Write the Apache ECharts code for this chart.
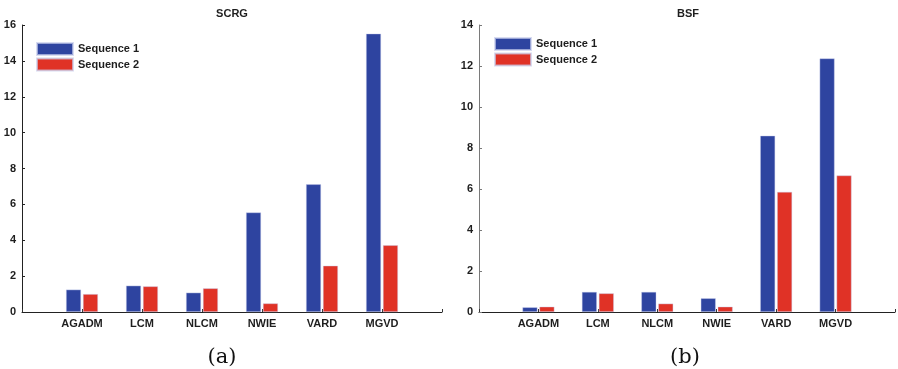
<!DOCTYPE html>
<html>
<head>
<meta charset="utf-8">
<script src="https://cdn.jsdelivr.net/npm/echarts@6/dist/echarts.min.js"></script>
<style>
  html, body { margin: 0; padding: 0; background: #fff; }
  #chart { width: 898px; height: 369px; }
</style>
</head>
<body>
<div id="chart"></div>
<script>
// Methods compared in both panels
const categories = ['AGADM', 'LCM', 'NLCM', 'NWIE', 'VARD', 'MGVD'];
const seriesNames = ['Sequence 1', 'Sequence 2'];

// Panel (a): SCRG
const scrgSeq1 = [1.25, 1.47, 1.08, 5.55, 7.12, 15.52];
const scrgSeq2 = [1.00, 1.43, 1.32, 0.48, 2.58, 3.72];

// Panel (b): BSF
const bsfSeq1 = [0.23, 0.98, 0.98, 0.67, 8.60, 12.37];
const bsfSeq2 = [0.26, 0.91, 0.41, 0.26, 5.86, 6.66];

const panelTitles = ['SCRG', 'BSF'];
const subCaptions = ['(a)', '(b)'];
const yMax = [16, 14];
const yInterval = 2;

const BLUE = '#2e44a0';
const RED = '#e03226';
const TEXT = '#1e1e1e';
const SANS = 'Liberation Sans, Arial, sans-serif';
const labelFont = { fontFamily: SANS, fontWeight: 'bold', fontSize: 11, color: TEXT };

// Empty slots at both ends keep the groups one unit away from the axis ends
const padded = arr => [null].concat(arr, [null]);
const axisCats = [''].concat(categories, ['']);

const grids = [
  { left: 22, top: 25, width: 420, bottom: 57 },
  { left: 479, top: 25, width: 420, bottom: 57 }
];

function xAxisFor(i) {
  return {
    type: 'category', gridIndex: i, data: axisCats, boundaryGap: false,
    axisLine: { lineStyle: { color: '#222', width: 1 } },
    axisTick: { show: true, inside: true, length: 3, lineStyle: { color: '#333' } },
    axisLabel: Object.assign({ margin: 6, interval: 0 }, labelFont),
    splitLine: { show: false }
  };
}
function yAxisFor(i, lineColor) {
  return {
    type: 'value', gridIndex: i, min: 0, max: yMax[i], interval: yInterval,
    axisLine: { show: true, lineStyle: { color: lineColor, width: 1 } },
    axisTick: { show: true, inside: true, length: 3, lineStyle: { color: lineColor } },
    axisLabel: Object.assign({ margin: 6 }, labelFont),
    splitLine: { show: false }
  };
}

function barSeries(name, data, color, idx) {
  return {
    type: 'bar', name: name, xAxisIndex: idx, yAxisIndex: idx,
    data: padded(data), barWidth: 15, barGap: '13%',
    itemStyle: { color: color, borderColor: 'rgba(200,205,235,0.7)', borderWidth: 0.6 },
    emphasis: { disabled: true },
    animation: false
  };
}

const legendBase = {
  orient: 'vertical', icon: 'rect', itemWidth: 36, itemHeight: 12, itemGap: 1.5, padding: 0,
  textStyle: { fontFamily: SANS, fontWeight: 'bold', fontSize: 11, color: TEXT },
  data: seriesNames, selectedMode: false
};

const titleFont = { fontFamily: SANS, fontWeight: 'bold', fontSize: 11, color: TEXT };
const captionFont = { fontFamily: 'DejaVu Serif, Liberation Serif, serif', fontWeight: 'normal', fontSize: 21, color: '#111' };

const chart = echarts.init(document.getElementById('chart'), null, { renderer: 'canvas' });
chart.setOption({
  backgroundColor: '#fff',
  animation: false,
  title: [
    { text: panelTitles[0], left: 232, top: 8, padding: 0, textAlign: 'center', textStyle: titleFont },
    { text: panelTitles[1], left: 688, top: 8, padding: 0, textAlign: 'center', textStyle: titleFont },
    { text: subCaptions[0], left: 222, top: 347, padding: 0, textAlign: 'center', textStyle: captionFont },
    { text: subCaptions[1], left: 685, top: 347, padding: 0, textAlign: 'center', textStyle: captionFont }
  ],
  legend: [
    Object.assign({ left: 36, top: 42 }, legendBase),
    Object.assign({ left: 494, top: 37 }, legendBase)
  ],
  grid: grids,
  xAxis: [xAxisFor(0), xAxisFor(1)],
  yAxis: [yAxisFor(0, '#222'), yAxisFor(1, '#7a7a7a')],
  series: [
    barSeries(seriesNames[0], scrgSeq1, BLUE, 0),
    barSeries(seriesNames[1], scrgSeq2, RED, 0),
    barSeries(seriesNames[0], bsfSeq1, BLUE, 1),
    barSeries(seriesNames[1], bsfSeq2, RED, 1)
  ]
});
</script>
</body>
</html>
